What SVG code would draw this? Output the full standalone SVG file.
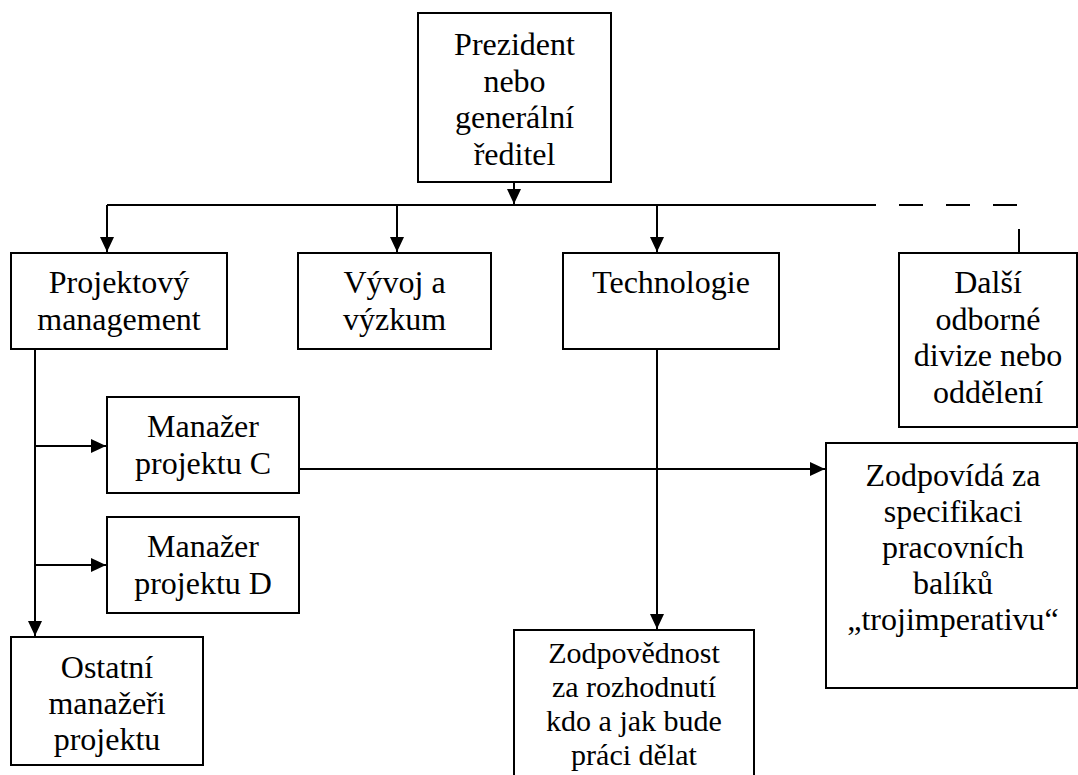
<svg xmlns="http://www.w3.org/2000/svg" width="1078" height="775" viewBox="0 0 1078 775">
  <style>
    .box { fill: #ffffff; stroke: #000000; stroke-width: 2; }
    .line { fill: none; stroke: #000000; stroke-width: 2; }
    .dash { fill: none; stroke: #000000; stroke-width: 2; stroke-dasharray: 24 23; }
    text { font-family: "Liberation Serif", "Times New Roman", serif; font-size: 32px; fill: #000000; text-anchor: middle; }
    .tight { font-size: 30px; }
  </style>
  <defs>
    <marker id="arrow" markerUnits="userSpaceOnUse" markerWidth="16" markerHeight="16" viewBox="0 0 16 14" refX="15" refY="7" orient="auto">
      <path d="M0,0 L15,7 L0,14 z" fill="#000000"/>
    </marker>
  </defs>

  <!-- connectors -->
  <g id="connectors">
    <line class="line" x1="514" y1="182" x2="514" y2="204" marker-end="url(#arrow)"/>
    <line class="line" x1="107" y1="205" x2="876" y2="205"/>
    <line class="dash" x1="899" y1="205" x2="1020" y2="205"/>
    <line class="line" x1="107" y1="205" x2="107" y2="252" marker-end="url(#arrow)"/>
    <line class="line" x1="397" y1="205" x2="397" y2="252" marker-end="url(#arrow)"/>
    <line class="line" x1="657" y1="205" x2="657" y2="252" marker-end="url(#arrow)"/>
    <line class="line" x1="1019" y1="229" x2="1019" y2="253"/>
    <line class="line" x1="35" y1="349" x2="35" y2="636" marker-end="url(#arrow)"/>
    <line class="line" x1="35" y1="446" x2="106" y2="446" marker-end="url(#arrow)"/>
    <line class="line" x1="35" y1="565" x2="106" y2="565" marker-end="url(#arrow)"/>
    <line class="line" x1="299" y1="469" x2="825" y2="469" marker-end="url(#arrow)"/>
    <line class="line" x1="657" y1="349" x2="657" y2="629" marker-end="url(#arrow)"/>
  </g>

  <g id="president">
    <rect class="box" x="418" y="13" width="193" height="169"/>
    <text x="514.5" y="55">Prezident</text>
    <text x="514.5" y="92">nebo</text>
    <text x="514.5" y="128">generální</text>
    <text x="514.5" y="165">ředitel</text>
  </g>

  <g id="project-management">
    <rect class="box" x="11" y="253" width="216" height="96"/>
    <text x="119" y="293">Projektový</text>
    <text x="119" y="330">management</text>
  </g>

  <g id="research">
    <rect class="box" x="298" y="253" width="193" height="96"/>
    <text x="394.5" y="293">Vývoj a</text>
    <text x="394.5" y="330">výzkum</text>
  </g>

  <g id="technology">
    <rect class="box" x="563" y="253" width="216" height="96"/>
    <text x="671" y="293">Technologie</text>
  </g>

  <g id="other-divisions">
    <rect class="box" x="899" y="253" width="178" height="174"/>
    <text x="988" y="293">Další</text>
    <text x="988" y="330">odborné</text>
    <text x="988" y="366">divize nebo</text>
    <text x="988" y="403">oddělení</text>
  </g>

  <g id="manager-c">
    <rect class="box" x="107" y="397" width="192" height="96"/>
    <text x="203" y="437">Manažer</text>
    <text x="203" y="474">projektu C</text>
  </g>

  <g id="manager-d">
    <rect class="box" x="107" y="517" width="192" height="96"/>
    <text x="203" y="557">Manažer</text>
    <text x="203" y="594">projektu D</text>
  </g>

  <g id="other-managers">
    <rect class="box" x="11" y="637" width="192" height="128"/>
    <text x="107" y="678">Ostatní</text>
    <text x="107" y="714">manažeři</text>
    <text x="107" y="750">projektu</text>
  </g>

  <g id="specification">
    <rect class="box" x="826" y="443" width="251" height="245"/>
    <text x="953" y="486">Zodpovídá za</text>
    <text x="953" y="522">specifikaci</text>
    <text x="953" y="558">pracovních</text>
    <text x="953" y="594">balíků</text>
    <text x="953" y="630">„trojimperativu“</text>
  </g>

  <g id="responsibility">
    <rect class="box" x="514" y="630" width="240" height="160"/>
    <text class="tight" x="634" y="663">Zodpovědnost</text>
    <text class="tight" x="634" y="697">za rozhodnutí</text>
    <text class="tight" x="634" y="731">kdo a jak bude</text>
    <text class="tight" x="634" y="765">práci dělat</text>
  </g>
</svg>
